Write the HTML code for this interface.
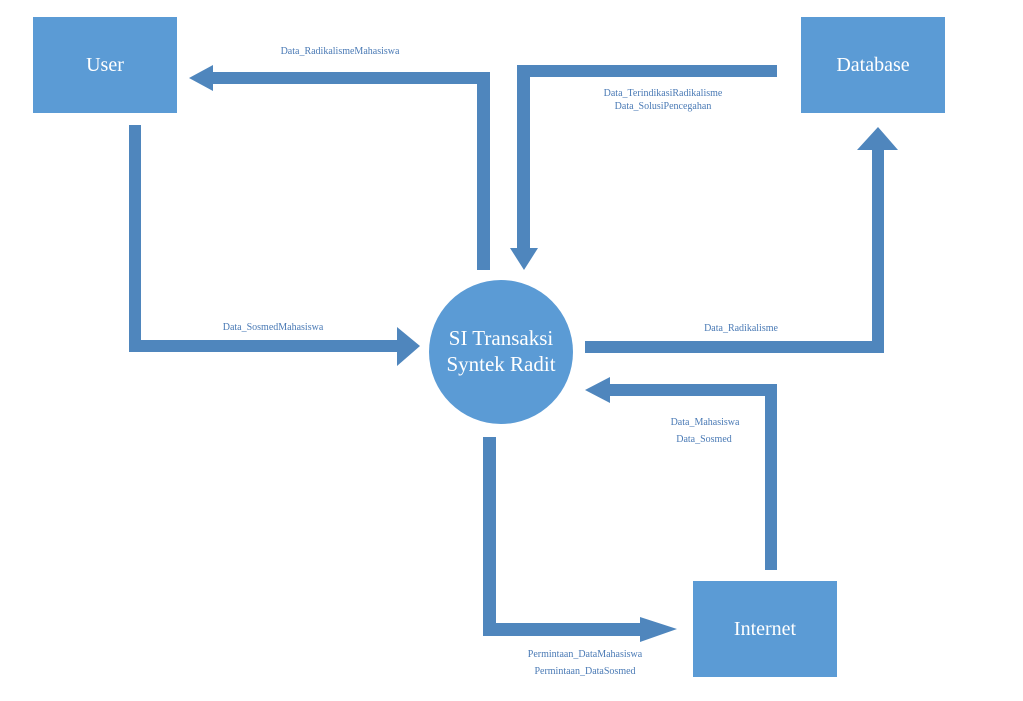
<!DOCTYPE html>
<html><head><meta charset="utf-8"><style>
body{margin:0;background:#fff;}
svg{display:block}
</style></head><body>
<svg width="1023" height="701" xmlns="http://www.w3.org/2000/svg" font-family="Liberation Serif, serif">
<g fill="#5b9bd5">
<rect x="33" y="17" width="144" height="96"/>
<rect x="801" y="17" width="144" height="96"/>
<rect x="693" y="581" width="144" height="96"/>
<circle cx="501" cy="352" r="72"/>
</g>
<g fill="#4f86bd">
<!-- to User -->
<polygon points="189,78 213,65 213,72 490,72 490,270 477,270 477,84 213,84 213,91"/>
<!-- DB to circle -->
<polygon points="777,65 777,77 530,77 530,248 538,248 524,270 510,248 517,248 517,65"/>
<!-- User to circle -->
<polygon points="129,125 141,125 141,340 397,340 397,327 420,346 397,366 397,352 129,352"/>
<!-- circle to DB -->
<polygon points="585,341 872,341 872,150 857,150 878,127 898,150 884,150 884,353 585,353"/>
<!-- Internet to circle -->
<polygon points="765,570 777,570 777,384 610,384 610,377 585,390 610,403 610,396 765,396"/>
<!-- circle to Internet -->
<polygon points="483,437 496,437 496,623 640,623 640,617 677,629 640,642 640,636 483,636"/>
</g>
<g fill="#fff" font-size="20" text-anchor="middle">
<text x="105" y="71">User</text>
<text x="873" y="71">Database</text>
<text x="765" y="635">Internet</text>
<text x="501" y="345" font-size="21">SI Transaksi</text>
<text x="501" y="371" font-size="21">Syntek Radit</text>
</g>
<g fill="#4a7ab5" font-size="10" text-anchor="middle">
<text x="340" y="54">Data_RadikalismeMahasiswa</text>
<text x="663" y="96">Data_TerindikasiRadikalisme</text>
<text x="663" y="109">Data_SolusiPencegahan</text>
<text x="273" y="330">Data_SosmedMahasiswa</text>
<text x="741" y="331">Data_Radikalisme</text>
<text x="705" y="425">Data_Mahasiswa</text>
<text x="704" y="442">Data_Sosmed</text>
<text x="585" y="657">Permintaan_DataMahasiswa</text>
<text x="585" y="674">Permintaan_DataSosmed</text>
</g>
</svg>
</body></html>
